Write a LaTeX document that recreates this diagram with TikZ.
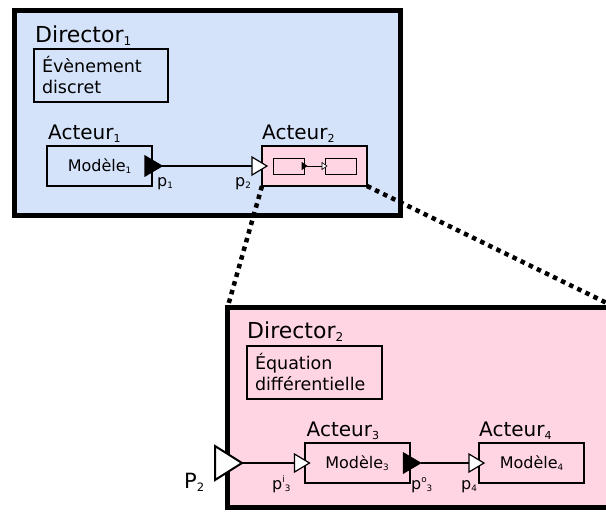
\documentclass[tikz,border=0pt]{standalone}
\usepackage{fontspec}
\setmainfont{DejaVu Sans}
\usetikzlibrary{shapes.geometric}

\definecolor{dirblue}{RGB}{212,226,250}
\definecolor{dirpink}{RGB}{255,212,227}

% small indices, scaled on the current size
\makeatletter
\newcommand\lowidx[1]{\raisebox{-0.15em}{\fontsize{\fpeval{0.55*\f@size}}{0}\selectfont #1}}
\newcommand\highidx[1]{\raisebox{0.42em}{\fontsize{\fpeval{0.55*\f@size}}{0}\selectfont #1}}
\makeatother

\tikzset{
  director/.style={draw, line width=5pt, inner sep=0pt, outer sep=0pt},
  dirlabel/.style={anchor=base west, inner sep=0pt, font=\fontsize{22}{26}\selectfont},
  infobox/.style={draw, line width=2pt, anchor=north west, outer sep=0pt, inner xsep=8pt,
    align=left, font=\fontsize{17.5}{21}\selectfont},
  actor/.style={draw, line width=2pt, inner sep=0pt, outer sep=0pt,
    minimum width=105pt, minimum height=40pt, font=\fontsize{16}{19}\selectfont},
  actlabel/.style={anchor=base west, inner sep=0pt, font=\fontsize{20}{24}\selectfont},
  minibox/.style={draw, line width=1pt, inner sep=0pt, outer sep=0pt,
    minimum width=31pt, minimum height=16pt},
  port/.style={isosceles triangle, isosceles triangle stretches, draw, line width=1.2pt,
    inner sep=0pt, outer sep=0pt, anchor=lower side, minimum width=18pt, minimum height=15pt},
  inport/.style={port, fill=white},
  outport/.style={port, fill=black, minimum width=20pt, minimum height=17pt},
  portlabel/.style={anchor=base west, inner sep=0pt, font=\fontsize{16}{19}\selectfont},
  wire/.style={line width=2pt},
  zoomline/.style={line width=4.5pt, dash pattern=on 4.5pt off 4.5pt}
}

\begin{document}
\begin{tikzpicture}[x=1pt, y=-1pt]
\useasboundingbox (0,0) rectangle (606,515);

% Director 1 : discrete events
\node[director, fill=dirblue, minimum width=386pt, minimum height=205pt] (dir1) at (207.75,113.25) {};
\node[dirlabel] (dir1name) at (35,42) {Director\lowidx{1}};
\node[infobox, minimum width=134pt, minimum height=53pt, text width=118pt] (evt) at (34,49) {Évènement\\discret};

% actors of director 1
\node[actor] (m1) at (99.5,166) {Modèle\lowidx{1}};
\node[actor, fill=dirpink] (a2) at (314.5,166) {};
\node[actlabel] (a1name) at ([xshift=1pt, yshift=7pt]m1.north west) {Acteur\lowidx{1}};
\node[actlabel] (a2name) at ([yshift=7pt]a2.north west) {Acteur\lowidx{2}};

% small view of the inside of actor 2
\node[minibox] (a2l) at (288.5,166) {};
\node[minibox] (a2r) at (340.5,166) {};
\node[port, fill=black, line width=0.6pt, minimum width=7pt, minimum height=5pt] (a2o) at ([xshift=-2pt]a2l.east) {};
\node[port, fill=white, line width=0.6pt, minimum width=7pt, minimum height=5pt] (a2i) at ([xshift=-3pt]a2r.west) {};
\draw[line width=1pt] (a2o.apex) -- (a2i.lower side);

% ports of director 1
\node[outport] (p1) at ([xshift=-7pt]m1.east) {};
\node[inport] (p2) at ([xshift=-10pt]a2.west) {};
\draw[wire] (p1.apex) -- (p2.lower side);
\node[portlabel] (p1name) at (157,186) {p\lowidx{1}};
\node[portlabel] (p2name) at (235,186) {p\lowidx{2}};

% Director 2 : differential equations
\node[director, fill=dirpink, minimum width=388.5pt, minimum height=200pt] (dir2) at (421.75,407.5) {};
\node[dirlabel] (dir2name) at (247,338) {Director\lowidx{2}};
\node[infobox, minimum width=135pt, minimum height=53pt, text width=119pt] (eq) at (247,346) {Équation\\différentielle};

% zoom lines
\draw[zoomline] (a2.south west) -- (dir2.north west);
\draw[zoomline] (a2.south east) -- (dir2.north east);

% actors of director 2
\node[actor] (m3) at (357,463) {Modèle\lowidx{3}};
\node[actor] (m4) at (531.5,463) {Modèle\lowidx{4}};
\node[actlabel] (a3name) at ([xshift=2pt, yshift=7pt]m3.north west) {Acteur\lowidx{3}};
\node[actlabel] (a4name) at ([yshift=7pt]m4.north west) {Acteur\lowidx{4}};

% ports of director 2
\node[inport, line width=2pt, minimum width=34pt, minimum height=27pt] (P2) at ([xshift=-12.5pt]dir2.west |- m3.west) {};
\node[inport] (p3i) at ([xshift=-10pt]m3.west) {};
\node[outport] (p3o) at ([xshift=-6pt]m3.east) {};
\node[inport] (p4) at ([xshift=-10pt]m4.west) {};
\draw[wire] (P2.apex) -- (p3i.lower side);
\draw[wire] (p3o.apex) -- (p4.lower side);
\node[portlabel, font=\fontsize{21}{25}\selectfont] (P2name) at (184,488) {P\lowidx{2}};
\node[portlabel] (p3iname) at (272,489) {p\highidx{i}\lowidx{3}};
\node[portlabel] (p3oname) at (411,489) {p\highidx{o}\lowidx{3}};
\node[portlabel] (p4name) at (461,489) {p\lowidx{4}};
\end{tikzpicture}
\end{document}
